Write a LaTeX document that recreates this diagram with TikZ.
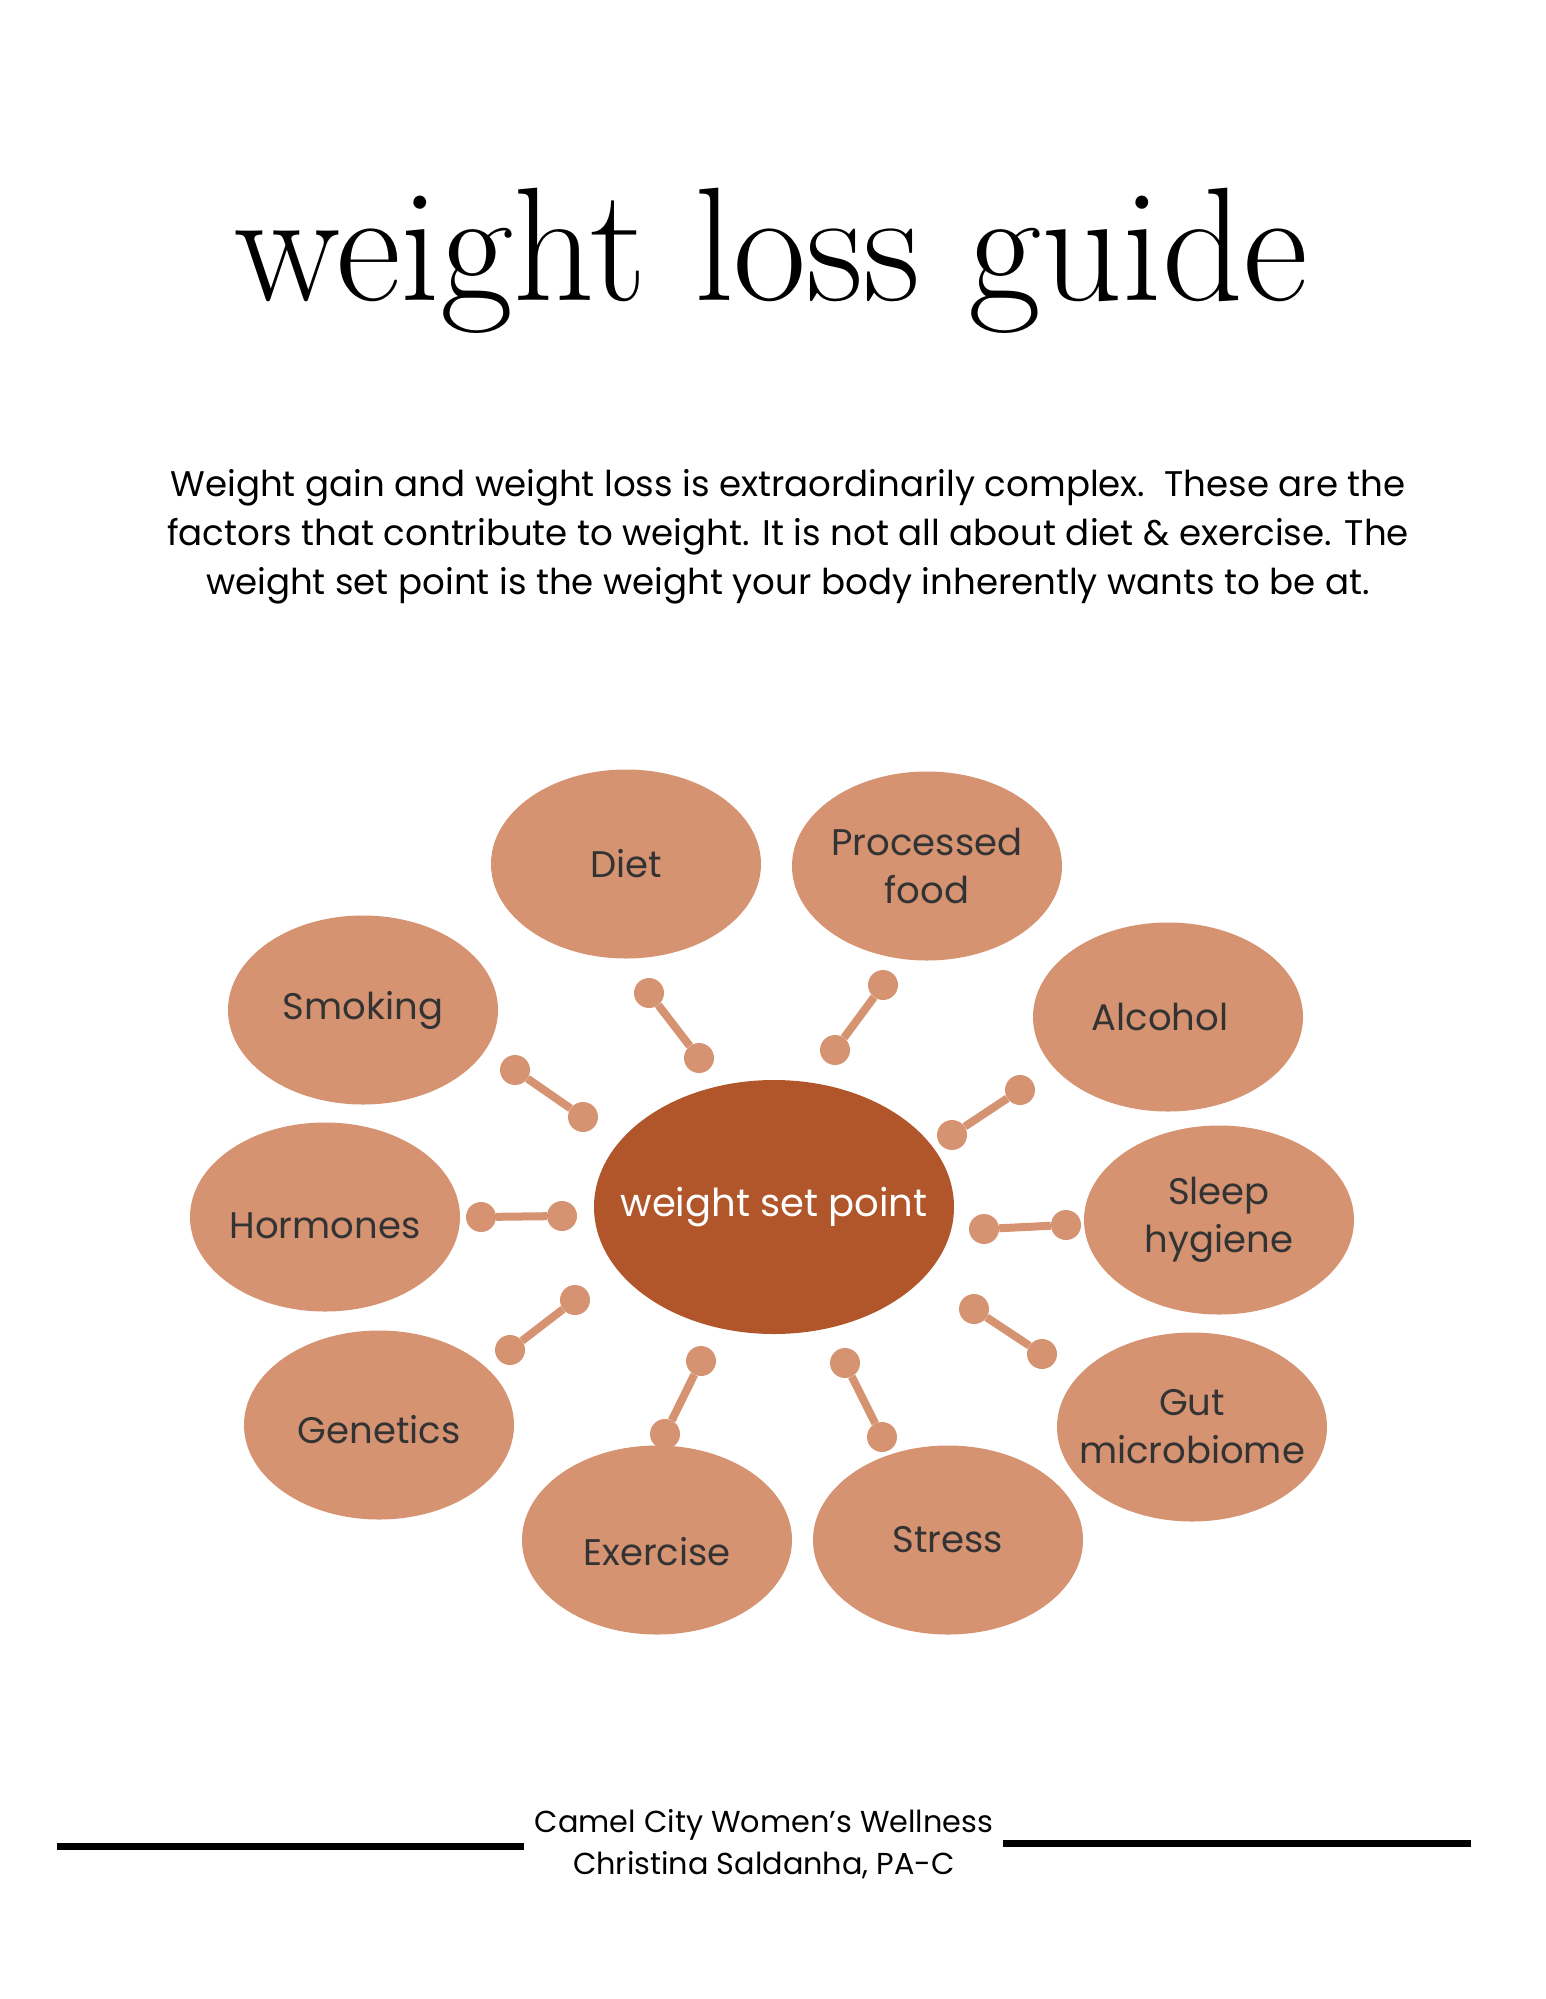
\documentclass[tikz,border=0pt]{standalone}
\usepackage{graphicx}
\usepackage{fontspec}
\usepackage{tikz}
\usetikzlibrary{shapes.geometric}
\newfontfamily\bodysans{Poppins}
\definecolor{Rust}{HTML}{B0562A}
\definecolor{Clay}{HTML}{D59372}
\definecolor{Ink}{HTML}{333333}
\newcommand{\droplabel}[2]{\raisebox{0pt}[\dimexpr\height+#1\relax]{#2}}
\tikzset{
  factor/.style={ellipse, fill=Clay, minimum width=270pt, minimum height=189pt,
    inner xsep=-60pt, inner ysep=0pt, text=Ink, align=center,
    font=\bodysans\fontsize{37}{48}\selectfont},
  core/.style={ellipse, fill=Rust, minimum width=360pt, minimum height=254pt,
    inner xsep=-80pt, inner ysep=0pt, text=white,
    font=\bodysans\fontsize{38.5}{42}\selectfont},
  knob/.style={circle, fill=Clay, minimum size=30pt, inner sep=0pt},
  stick/.style={Clay, line width=8pt}
}

\begin{document}
\begin{tikzpicture}[x=1pt,y=-1pt]
  \useasboundingbox[fill=white] (0,0) rectangle (1545,1999);
  % heading
  \node[font=\fontsize{162}{162}\selectfont, anchor=base, inner sep=0pt] (title) at (771,300)
    {\scalebox{0.98}[1]{weight loss guide}};
  \node[font=\bodysans\fontsize{35.6}{49}\selectfont, align=center] (intro) at (788,537)
    {Weight gain and weight loss is extraordinarily complex.\ \ These are the\\
     factors that contribute to weight. It is not all about diet \& exercise. The\\
     weight set point is the weight your body inherently wants to be at.};
  % centre
  \node[core] (setpoint) at (774,1207) {weight set point};
  % factors around it
  \foreach \n/\x/\y/\lab in {
    diet/626/864/Diet,
    food/927/866/{Processed\\food},
    smoke/363/1010/Smoking,
    alcohol/1168/1017/{Alcohol\hspace*{16pt}},
    hormone/325/1217/{\droplabel{18pt}{Hormones}},
    sleep/1219/1220/{Sleep\\hygiene},
    gene/379/1425/{\droplabel{10pt}{Genetics}},
    gut/1192/1427/{Gut\\microbiome},
    exercise/657/1540/{\droplabel{24pt}{Exercise}},
    stress/948/1540/Stress} {
    \node[factor] (\n) at (\x,\y) {\lab};
  }
  % dumbbell links
  \foreach \n/\ax/\ay/\bx/\by in {
    diet/649/993/699/1058,
    food/883/985/835/1050,
    smoke/515/1070/583/1117,
    alcohol/1020/1090/952/1135,
    hormone/481/1217/562/1216,
    sleep/1066/1225/984/1229,
    gene/510/1350/575/1300,
    gut/974/1309/1042/1354,
    exercise/701/1361/665/1434,
    stress/845/1363/882/1437} {
    \node[knob] (\n-a) at (\ax,\ay) {};
    \node[knob] (\n-b) at (\bx,\by) {};
    \draw[stick] (\n-a) -- (\n-b);
  }
  % footer
  \node[font=\bodysans\fontsize{30.3}{42}\selectfont, align=center] (credit) at (764,1844)
    {Camel City Women’s Wellness\\Christina Saldanha, PA-C};
  \draw[line width=7pt] (57,1846) -- (524,1846);
  \draw[line width=7pt] (1003,1843) -- (1471,1843);
\end{tikzpicture}
\end{document}
